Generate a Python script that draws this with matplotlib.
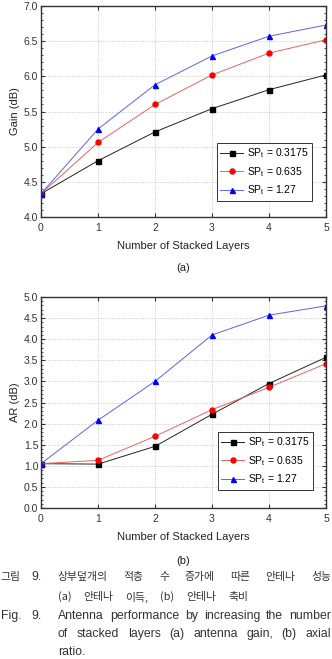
import matplotlib
matplotlib.use("Agg")
import matplotlib.pyplot as plt
from matplotlib.ticker import MultipleLocator

plt.rcParams['font.family'] = ['Liberation Sans', 'DejaVu Sans']

layers = [0, 1, 2, 3, 4, 5]
gain_03175 = [4.33, 4.80, 5.21, 5.54, 5.81, 6.02]
gain_0635 = [4.33, 5.06, 5.60, 6.02, 6.33, 6.52]
gain_127 = [4.33, 5.25, 5.88, 6.29, 6.57, 6.73]
ar_03175 = [1.05, 1.04, 1.46, 2.22, 2.95, 3.57]
ar_0635 = [1.05, 1.13, 1.70, 2.33, 2.86, 3.42]
ar_127 = [1.05, 2.08, 3.00, 4.10, 4.57, 4.79]
labels = ['SP$_\\mathregular{t}$ = 0.3175', 'SP$_\\mathregular{t}$ = 0.635', 'SP$_\\mathregular{t}$ = 1.27']
x_label = 'Number of Stacked Layers'

W, H = 332, 659
fig = plt.figure(figsize=(W / 100, H / 100), dpi=100)

def px_axes(left, top, right, bottom):
    return fig.add_axes([left / W, 1 - bottom / H, (right - left) / W, (bottom - top) / H])

styles = [dict(color='#222222', marker='s', mfc='black', mec='black'),
          dict(color='#f06060', marker='o', mfc='red', mec='red'),
          dict(color='#6060f0', marker='^', mfc='blue', mec='blue')]

def draw(ax, series, ylabel, ylim, legend_anchor):
    for ys, st, lab in zip(series, styles, labels):
        ax.plot(layers, ys, lw=0.7, ms=3.6, label=lab, **st)
    ax.set_xlim(0, 5)
    ax.set_ylim(*ylim)
    ax.xaxis.set_major_locator(MultipleLocator(1))
    ax.yaxis.set_major_locator(MultipleLocator(0.5))
    ax.yaxis.set_minor_locator(MultipleLocator(0.1))
    ax.yaxis.set_major_formatter(matplotlib.ticker.FormatStrFormatter('%.1f'))
    ax.tick_params(which='both', direction='in', top=True, right=True,
                   labelsize=7.5, colors='#333333')
    ax.tick_params(axis='x', pad=4)
    ax.tick_params(axis='y', pad=2)
    ax.tick_params(which='major', length=3, width=0.8)
    ax.tick_params(which='minor', length=1.5, width=0.6)
    ax.grid(True, which='major', ls=':', lw=0.6, color='#bbbbbb')
    for s in ax.spines.values():
        s.set_color('#333333')
        s.set_linewidth(1.0)
    ax.set_ylabel(ylabel, fontsize=8, color='#222222', labelpad=3)
    ax.set_xlabel(x_label, fontsize=8, color='#222222', labelpad=6)
    leg = ax.legend(loc='lower right', bbox_to_anchor=legend_anchor, fontsize=7.5,
                    frameon=True, fancybox=False, framealpha=1, edgecolor='#333333',
                    handlelength=2.2, handletextpad=0.35, borderpad=0.35,
                    labelspacing=0.45, borderaxespad=0)
    leg.get_frame().set_linewidth(0.7)

ax1 = px_axes(41, 6, 326, 217)
draw(ax1, [gain_03175, gain_0635, gain_127], 'Gain (dB)', (4.0, 7.0), (0.951, 0.076))
ax2 = px_axes(41, 297, 326, 508)
draw(ax2, [ar_03175, ar_0635, ar_127], 'AR (dB)', (0.0, 5.0), (0.954, 0.085))

fig.text(183 / W, 1 - 268 / H, '(a)', ha='center', va='center', fontsize=8, color='#222222')
fig.text(183 / W, 1 - 561 / H, '(b)', ha='center', va='center', fontsize=8, color='#222222')

kr_kw = dict(fontsize=7.8, color='#333333', va='center',
             family=['Noto Sans CJK KR', 'Liberation Sans', 'DejaVu Sans'])
en_kw = dict(fontsize=8.8, color='#333333', va='center',
             family=['Liberation Sans', 'DejaVu Sans'])

renderer = fig.canvas.get_renderer()

def justified(words, x0, x1, y, kw):
    texts = [fig.text(0, 1 - y / H, w, ha='left', **kw) for w in words]
    widths = [t.get_window_extent(renderer).width for t in texts]
    gap = (x1 - x0 - sum(widths)) / max(len(words) - 1, 1)
    x = x0
    for t, w in zip(texts, widths):
        t.set_x(x / W)
        x += w + gap

fig.text(0 / W, 1 - 577 / H, '그림', ha='left', **kr_kw)
fig.text(31 / W, 1 - 577 / H, '9.', ha='left', **en_kw)
justified('상부덮개의 적층 수 증가에 따른 안테나 성능'.split(), 58, 331, 577, kr_kw)
justified('(a) 안테나 이득, (b) 안테나 축비'.split(), 58, 248, 597, kr_kw)
fig.text(1 / W, 1 - 616 / H, 'Fig.', ha='left', **en_kw)
fig.text(31 / W, 1 - 616 / H, '9.', ha='left', **en_kw)
justified('Antenna performance by increasing the number'.split(), 58, 331, 616, en_kw)
justified('of stacked layers (a) antenna gain, (b) axial'.split(), 58, 331, 634, en_kw)
fig.text(58 / W, 1 - 652 / H, 'ratio.', ha='left', **en_kw)

fig.savefig('out.png', dpi=100)
